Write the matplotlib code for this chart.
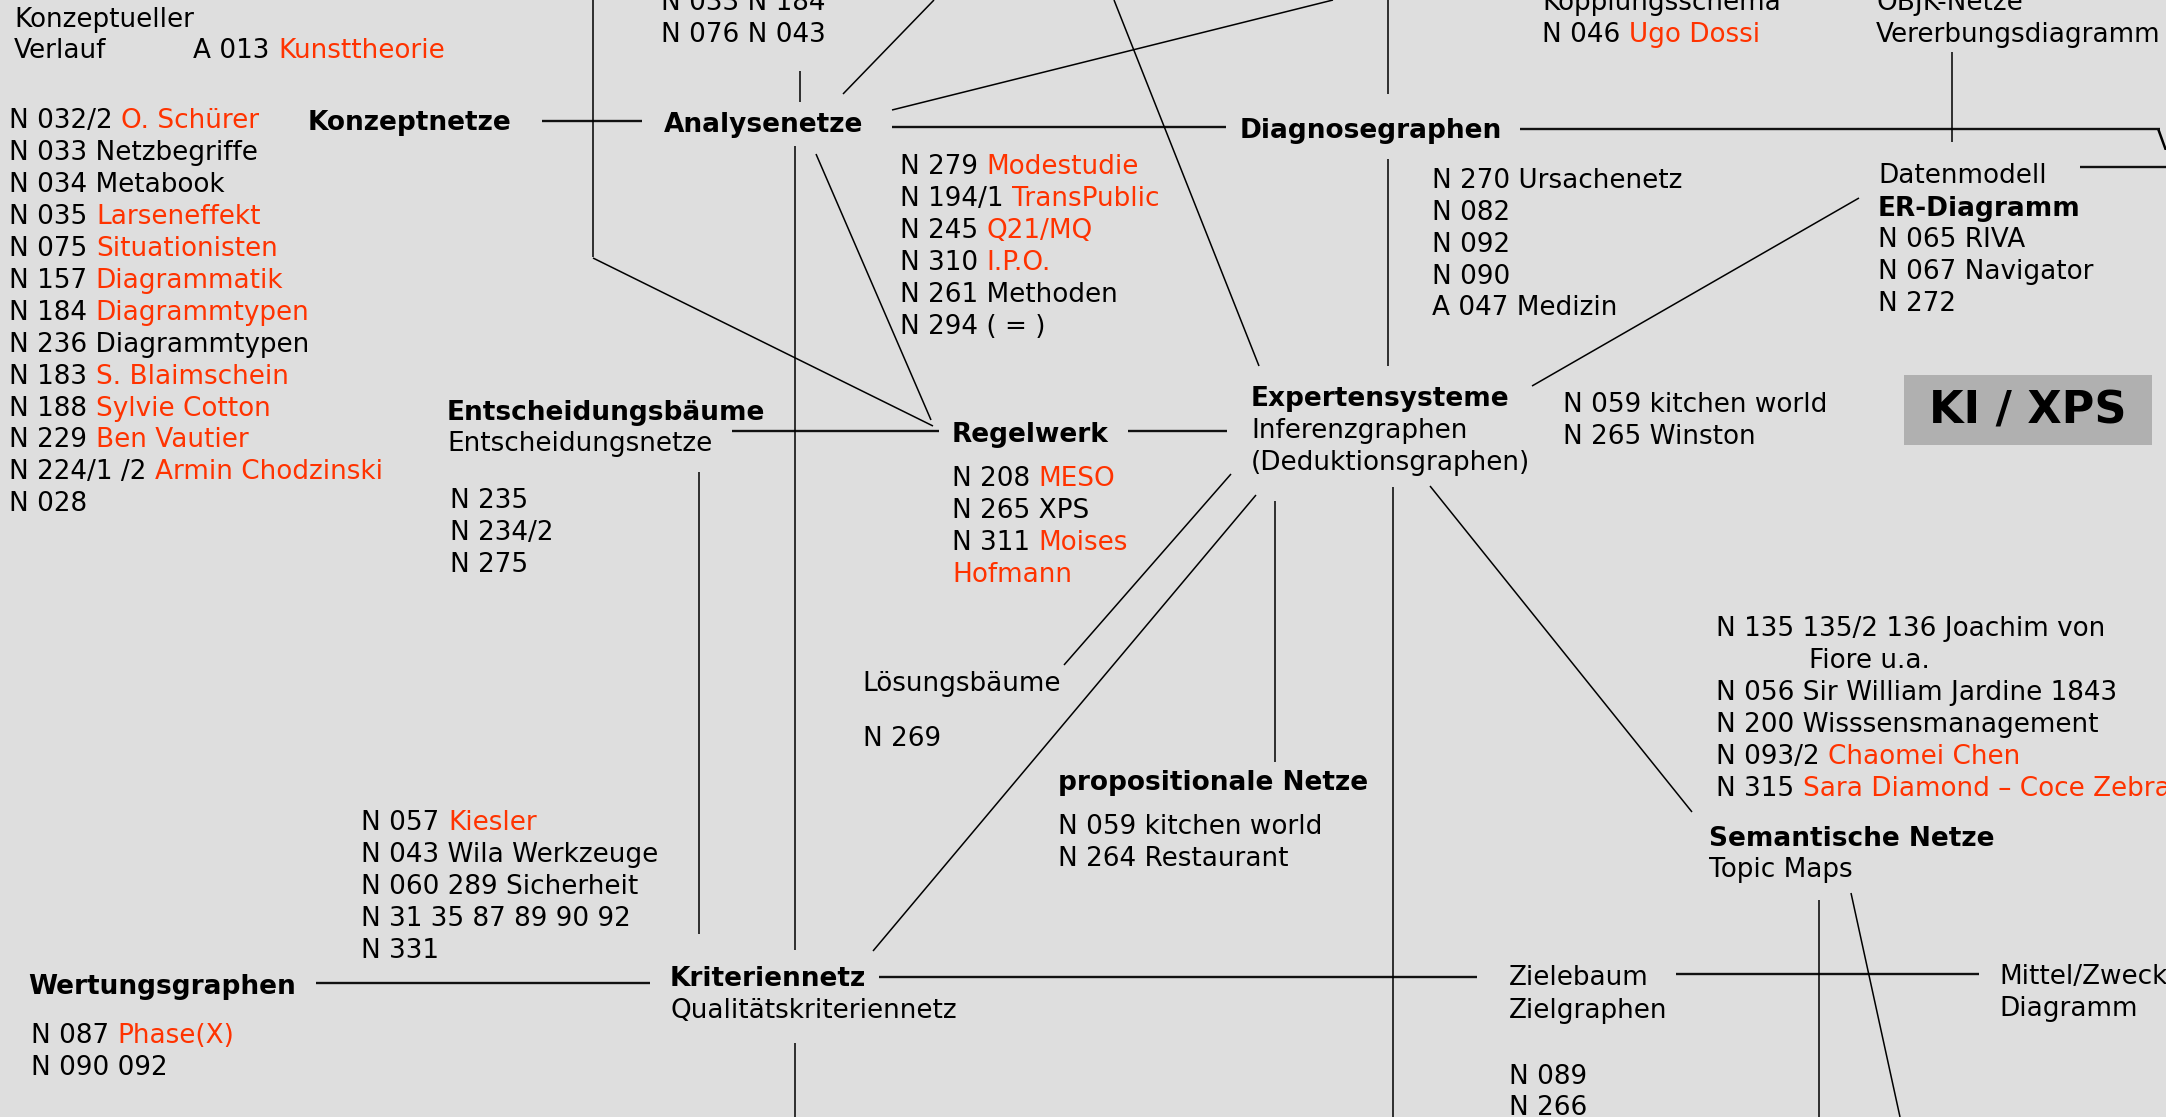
import matplotlib
matplotlib.use("Agg")
import matplotlib.pyplot as plt
from matplotlib.patches import Rectangle

W, H = 2166, 1117
RED = "#ff3300"
INK = "#000000"
BG = "#dedede"
BOXC = "#b0b0b0"
FS = 18.9
FS_B = 19.0

# ---------------- content (text of the diagram) ----------------
title_lines = ["Konzeptueller", "Verlauf"]
title_ref = ("A 013", "Kunsttheorie")
konzept_refs = [("N 032/2", "O. Schürer"), "N 033 Netzbegriffe", "N 034 Metabook",
                ("N 035", "Larseneffekt"), ("N 075", "Situationisten"),
                ("N 157", "Diagrammatik"), ("N 184", "Diagrammtypen"),
                "N 236 Diagrammtypen", ("N 183", "S. Blaimschein"),
                ("N 188", "Sylvie Cotton"), ("N 229", "Ben Vautier"),
                ("N 224/1 /2", "Armin Chodzinski"), "N 028"]
analyse_top_refs = ["N 033 N 184", "N 076 N 043"]
analyse_refs = [("N 279", "Modestudie"), ("N 194/1", "TransPublic"),
                ("N 245", "Q21/MQ"), ("N 310", "I.P.O."),
                "N 261 Methoden", "N 294 ( = )"]
diagnose_refs = ["N 270 Ursachenetz", "N 082", "N 092", "N 090", "A 047 Medizin"]
kopplung_lines = ["Kopplungsschema", ("N 046", "Ugo Dossi")]
objk_lines = ["OBJK-Netze", "Vererbungsdiagramm"]
daten_lines = ["Datenmodell"]
er_title = "ER-Diagramm"
er_refs = ["N 065 RIVA", "N 067 Navigator", "N 272"]
xps_label = "KI / XPS"
xps_refs = ["N 059 kitchen world", "N 265 Winston"]
experten_sub = ["Inferenzgraphen", "(Deduktionsgraphen)"]
regel_refs = [("N 208", "MESO"), "N 265 XPS", ("N 311", "Moises"), ("", "Hofmann")]
entsch_sub = ["Entscheidungsnetze"]
entsch_refs = ["N 235", "N 234/2", "N 275"]
loesung_lines = ["Lösungsbäume"]
loesung_refs = ["N 269"]
prop_refs = ["N 059 kitchen world", "N 264 Restaurant"]
semantic_refs = ["N 135 135/2 136 Joachim von", "Fiore u.a.",
                 "N 056 Sir William Jardine 1843", "N 200 Wisssensmanagement",
                 ("N 093/2", "Chaomei Chen"), ("N 315", "Sara Diamond – Coce Zebra")]
semantic_sub = ["Topic Maps"]
kiesler_refs = [("N 057", "Kiesler"), "N 043 Wila Werkzeuge", "N 060 289 Sicherheit",
                "N 31 35 87 89 90 92", "N 331"]
wertung_refs = [("N 087", "Phase(X)"), "N 090 092"]
kriterien_sub = ["Qualitätskriteriennetz"]
ziel_lines = ["Zielebaum", "Zielgraphen"]
ziel_refs = ["N 089", "N 266"]
mittel_lines = ["Mittel/Zweck", "Diagramm"]
headings = ["Konzeptnetze", "Analysenetze", "Diagnosegraphen", "Expertensysteme",
            "Regelwerk", "Entscheidungsbäume", "propositionale Netze",
            "Semantische Netze", "Wertungsgraphen", "Kriteriennetz"]

# ---------------- layout (pixel positions in the 2166x1117 canvas) ----------------
heading_pos = {"Konzeptnetze": (308, 120), "Analysenetze": (664, 122),
               "Diagnosegraphen": (1240, 128), "Expertensysteme": (1251, 397),
               "Regelwerk": (952, 433), "Entscheidungsbäume": (447, 410),
               "propositionale Netze": (1058, 781), "Semantische Netze": (1709, 836),
               "Wertungsgraphen": (28, 985), "Kriteriennetz": (670, 977)}

h_edges = [((542, 121), (642, 121)), ((892, 127), (1226, 127)),
           ((1520, 129), (2160, 129)), ((2080, 167), (2166, 167)),
           ((732, 431), (939, 431)), ((1128, 431), (1227, 431)),
           ((316, 983), (650, 983)), ((879, 977), (1477, 977)),
           ((1676, 974), (1979, 974))]
other_edges = [((593, 0), (593, 257)), ((800, 71), (800, 102)),
               ((795, 146), (795, 950)), ((795, 1043), (795, 1117)),
               ((1388, 0), (1388, 94)), ((1388, 159), (1388, 366)),
               ((1952, 52), (1952, 142)), ((699, 472), (699, 934)),
               ((1275, 501), (1275, 762)), ((1393, 487), (1393, 1117)),
               ((1819, 900), (1819, 1117)),
               ((593, 258), (933, 426)), ((816, 154), (931, 420)),
               ((843, 94), (934, 0)), ((892, 110), (1333, 0)),
               ((1114, 0), (1259, 366)), ((1532, 386), (1859, 198)),
               ((1231, 474), (1064, 665)), ((1256, 495), (873, 951)),
               ((1430, 486), (1692, 812)), ((1851, 893), (1900, 1117))]

fig = plt.figure(figsize=(W / 100, H / 100), dpi=100, facecolor=BG)
ax = fig.add_axes([0, 0, 1, 1])
ax.set_xlim(0, W)
ax.set_ylim(H, 0)
ax.axis("off")
ax.set_facecolor(BG)
plt.rcParams["font.family"] = ["DejaVu Sans"]


def put(x, yc, item, bold=False, size=None):
    fs = size or (FS_B if bold else FS)
    base = yc + 0.36 * fs * 100 / 72
    w = "bold" if bold else "normal"
    if isinstance(item, tuple):
        black, red = item
    else:
        black, red = item, ""
    if black:
        t = ax.text(x, base, black, fontsize=fs, fontweight=w, color=INK,
                    va="baseline", ha="left")
        if red:
            ax.annotate(red, xy=(1, 0), xycoords=t, xytext=(0.33 * fs, 0),
                        textcoords="offset points", fontsize=fs, fontweight=w,
                        color=RED, va="bottom", ha="left")
    else:
        ax.text(x, base, red, fontsize=fs, fontweight=w, color=RED,
                va="baseline", ha="left")


def block(x, y0, items, step=32.0, bold=False):
    for i, it in enumerate(items):
        put(x, y0 + i * step, it, bold=bold)


# lines
for (x1, y1), (x2, y2) in h_edges:
    ax.plot([x1, x2], [y1, y2], color="#111111", lw=1.7, solid_capstyle="butt")
for (x1, y1), (x2, y2) in other_edges:
    ax.plot([x1, x2], [y1, y2], color="#000000", lw=1.1, solid_capstyle="butt")

# headings
for hname in headings:
    hx, hy = heading_pos[hname]
    put(hx, hy, hname, bold=True)

# text blocks
block(14, 18, title_lines, step=31)
put(193, 49, title_ref)
block(9, 119, konzept_refs, step=31.9)
block(661, 1, analyse_top_refs)
block(900, 165, analyse_refs)
block(1432, 179, diagnose_refs, step=31.7)
block(1542, 1, kopplung_lines)
block(1876, 1, objk_lines)
put(2157, 141, "V")
block(1878, 174, daten_lines)
put(1878, 206, er_title, bold=True)
block(1878, 238, er_refs)
block(1563, 403, xps_refs)
block(1251, 429, experten_sub)
block(952, 477, regel_refs)
block(447, 442, entsch_sub)
block(450, 499, entsch_refs)
block(862, 682, loesung_lines)
block(863, 737, loesung_refs)
block(1058, 825, prop_refs)
for i, it in enumerate(semantic_refs):
    put(1809 if i == 1 else 1716, 626.5 + i * 32, it)
block(1709, 868, semantic_sub)
block(361, 820.5, kiesler_refs)
block(31, 1034, wertung_refs)
block(670, 1009, kriterien_sub)
block(1509, 976, ziel_lines, step=33)
block(1509, 1075, ziel_refs, step=31)
block(1999, 975, mittel_lines)

# KI / XPS box
ax.add_patch(Rectangle((1904, 375), 248, 70, facecolor=BOXC, edgecolor="none"))
ax.text(2028, 411, xps_label, fontsize=32, fontweight="bold", color=INK,
        ha="center", va="center")

fig.savefig("out.png", dpi=100, facecolor=BG)
